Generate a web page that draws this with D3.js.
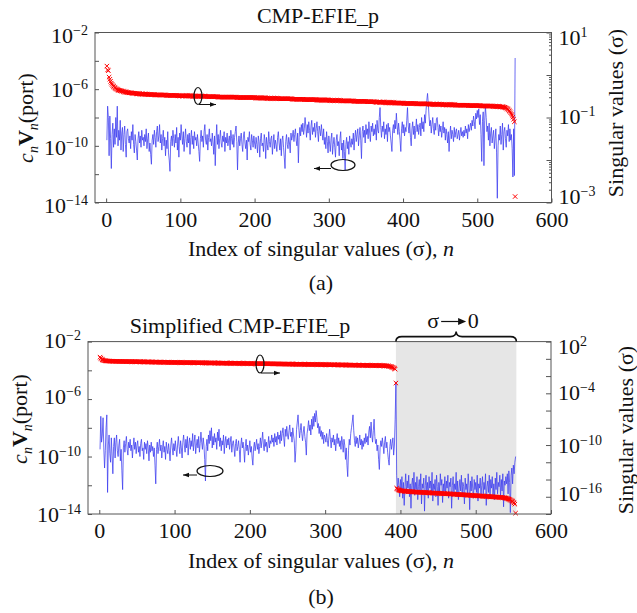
<!DOCTYPE html>
<html><head><meta charset="utf-8">
<script src="https://cdn.jsdelivr.net/npm/d3@7"></script>
<style>html,body{margin:0;padding:0;background:#fff;}svg{display:block;font-family:"Liberation Serif","Times New Roman",serif;}</style>
</head><body><svg id="c" width="637" height="613"></svg>
<script>
// ---- DATA (log10 of the plotted values, index n = position + 1) ----
// (a) CMP-EFIE_p : |c_n V_n(port)| (left axis)
const topBlueLog = [
-9.6,-7.2,-8.0,-10.7,-7.9,-9.5,-11.6,-9.2,-8.4,-10.1,
-8.8,-9.9,-8.0,-9.4,-7.2,-10.0,-8.9,-9.6,-8.2,-10.3,
-9.1,-8.7,-10.4,-9.2,-8.6,-9.9,-10.8,-9.0,-8.8,-9.5,
-9.8,-9.3,-10.2,-9.0,-9.6,-8.5,-9.9,-10.5,-9.2,-9.7,
-10.3,-11.0,-9.5,-9.0,-9.8,-9.3,-10.1,-8.9,-9.6,-9.4,
-10.0,-9.2,-9.7,-8.8,-10.2,-9.5,-9.1,-10.4,-9.8,-10.6,
-11.3,-9.6,-9.2,-9.9,-8.9,-9.4,-10.1,-9.0,-8.6,-9.7,
-9.3,-8.5,-9.8,-9.2,-10.3,-9.5,-8.9,-10.0,-9.4,-10.7,
-9.6,-10.2,-9.0,-10.5,-11.0,-11.8,-9.7,-9.3,-10.0,-8.9,
-9.5,-10.1,-9.2,-9.8,-8.7,-10.3,-9.4,-10.8,-9.1,-9.6,
-8.5,-9.3,-9.9,-9.0,-10.4,-9.5,-8.8,-9.7,-10.1,-9.2,
-9.8,-9.1,-10.6,-9.4,-8.9,-9.9,-9.3,-10.2,-9.0,-9.6,
-9.4,-10.0,-9.2,-9.8,-10.4,-11.1,-9.5,-8.9,-9.7,-9.3,
-10.1,-9.0,-8.5,-9.6,-9.9,-9.2,-10.3,-9.4,-8.8,-9.7,
-9.5,-10.0,-9.1,-9.8,-10.6,-9.3,-11.4,-9.6,-8.5,-9.9,
-9.2,-10.2,-9.5,-8.9,-9.8,-10.1,-9.3,-9.7,-9.0,-10.4,
-9.4,-9.8,-9.1,-10.0,-9.6,-9.3,-10.3,-8.9,-9.5,-9.9,
-9.2,-10.1,-9.4,-9.0,-8.6,-9.7,-11.7,-9.8,-9.3,-10.0,
-9.5,-9.1,-9.9,-10.4,-9.3,-9.0,-9.8,-10.2,-9.6,-11.0,
-9.4,-9.7,-9.0,-9.9,-10.3,-9.2,-9.6,-10.1,-9.3,-9.8,
-10.2,-9.4,-9.9,-10.5,-9.3,-9.7,-10.8,-9.5,-9.1,-10.0,
-9.8,-10.4,-9.2,-9.6,-10.9,-9.4,-9.9,-10.3,-9.0,-9.7,
-10.1,-9.5,-9.3,-10.6,-9.8,-9.2,-10.2,-9.6,-9.9,-10.4,
-9.4,-9.0,-9.8,-10.3,-9.5,-10.7,-9.6,-9.3,-10.1,-10.8,
-11.6,-9.7,-9.2,-9.9,-10.2,-9.4,-9.8,-10.5,-9.1,-9.6,
-9.3,-8.9,-9.7,-9.2,-8.8,-9.6,-10.0,-9.1,-11.2,-9.4,
-8.7,-9.3,-8.5,-9.0,-8.4,-9.2,-8.8,-8.0,-8.6,-9.4,
-8.5,-9.1,-8.3,-8.9,-9.6,-8.6,-8.2,-9.2,-8.7,-9.0,
-8.4,-9.4,-8.8,-8.3,-9.0,-9.7,-8.6,-8.9,-9.3,-8.5,
-9.1,-9.6,-8.8,-9.9,-9.4,-10.2,-9.0,-9.7,-10.5,-9.3,
-9.8,-10.4,-9.5,-9.1,-10.6,-9.9,-9.4,-10.1,-10.8,-9.6,
-9.2,-10.0,-9.7,-10.7,-9.5,-9.0,-10.3,-9.8,-10.9,-9.6,
-10.4,-11.7,-9.9,-9.4,-10.2,-9.7,-10.6,-9.3,-9.8,-10.1,
-9.5,-9.9,-9.1,-10.3,-9.4,-8.9,-9.7,-9.2,-8.8,-10.0,
-9.3,-8.7,-9.6,-10.9,-9.0,-8.6,-9.4,-8.9,-9.8,-8.5,
-9.2,-8.8,-9.5,-8.3,-9.1,-9.7,-8.6,-9.0,-8.4,-9.3,
-8.8,-9.2,-8.5,-9.6,-8.2,-8.9,-9.1,-8.0,-7.3,-8.7,
-9.4,-8.6,-9.0,-8.3,-9.5,-8.8,-9.2,-8.5,-9.7,-8.4,
-9.0,-8.7,-9.3,-9.8,-10.4,-8.9,-8.5,-9.1,-8.2,-8.8,
-7.7,-8.6,-9.2,-8.4,-9.0,-9.6,-10.4,-8.8,-8.3,-9.1,
-8.5,-9.3,-8.7,-9.0,-8.2,-7.3,-8.6,-9.1,-8.4,-9.4,
-10.0,-8.8,-8.3,-9.2,-8.6,-9.5,-8.9,-8.1,-9.0,-8.5,
-9.2,-8.7,-8.4,-9.3,-8.0,-8.8,-8.3,-9.0,-7.8,-8.4,
-7.5,-6.8,-6.3,-7.0,-7.9,-8.6,-8.2,-9.1,-8.5,-8.0,
-8.8,-9.2,-8.4,-8.9,-8.1,-8.0,-8.7,-9.3,-8.5,-9.0,
-8.6,-9.4,-8.9,-8.3,-9.1,-8.7,-9.6,-8.8,-9.2,-9.8,
-9.0,-10.4,-9.3,-8.6,-9.5,-8.9,-9.2,-9.7,-8.7,-9.4,
-9.0,-8.8,-9.5,-9.2,-8.9,-9.6,-9.1,-8.7,-9.3,-9.0,
-9.4,-8.9,-9.3,-8.6,-9.1,-8.8,-9.5,-8.5,-9.0,-8.7,
-8.4,-8.9,-8.2,-8.6,-7.9,-8.3,-8.8,-7.7,-8.1,-7.5,
-8.0,-7.4,-8.5,-7.8,-9.2,-11.1,-8.3,-7.6,-11.4,-8.2,
-7.2,-8.0,-9.0,-8.6,-9.6,-8.4,-10.0,-9.1,-8.7,-9.8,
-9.3,-8.9,-10.2,-9.5,-8.8,-10.5,-13.7,-10.0,-9.2,-9.6,
-8.6,-9.9,-9.2,-8.4,-10.3,-9.0,-8.7,-9.5,-10.1,-8.9,
-9.3,-8.5,-9.7,-8.8,-9.6,-9.2,-10.2,-12.2,-8.8,-12.1,
-3.8];
// (a) singular values sigma_n (right axis)
const topRedLog = [
.21,.12,.10,-.05,-.10,-.15,-.19,-.22,-.25,-.27,
-.29,-.30,-.32,-.33,-.34,-.35,-.36,-.36,-.37,-.37,
-.38,-.38,-.39,-.39,-.40,-.40,-.40,-.41,-.41,-.41,
-.42,-.42,-.42,-.42,-.43,-.43,-.43,-.43,-.43,-.44,
-.44,-.44,-.44,-.44,-.44,-.45,-.45,-.45,-.45,-.45,
-.45,-.45,-.45,-.45,-.45,-.46,-.46,-.46,-.46,-.46,
-.46,-.46,-.46,-.46,-.46,-.47,-.47,-.47,-.47,-.47,
-.47,-.47,-.47,-.47,-.47,-.47,-.47,-.47,-.47,-.47,
-.48,-.48,-.48,-.48,-.48,-.48,-.48,-.48,-.48,-.48,
-.48,-.48,-.48,-.48,-.48,-.49,-.49,-.49,-.49,-.49,
-.49,-.49,-.49,-.49,-.49,-.49,-.49,-.49,-.49,-.49,
-.49,-.49,-.49,-.49,-.49,-.50,-.50,-.50,-.50,-.50,
-.50,-.50,-.50,-.50,-.50,-.50,-.50,-.50,-.50,-.50,
-.50,-.50,-.50,-.50,-.50,-.51,-.51,-.51,-.51,-.51,
-.51,-.51,-.51,-.51,-.51,-.51,-.51,-.51,-.51,-.51,
-.52,-.52,-.52,-.52,-.52,-.52,-.52,-.52,-.52,-.52,
-.52,-.52,-.52,-.52,-.52,-.52,-.52,-.52,-.52,-.52,
-.52,-.52,-.52,-.52,-.52,-.53,-.53,-.53,-.53,-.53,
-.53,-.53,-.53,-.53,-.53,-.53,-.53,-.53,-.53,-.53,
-.53,-.53,-.53,-.53,-.53,-.53,-.53,-.53,-.53,-.53,
-.54,-.54,-.54,-.54,-.54,-.54,-.54,-.54,-.54,-.54,
-.54,-.54,-.54,-.54,-.54,-.55,-.55,-.55,-.55,-.55,
-.55,-.55,-.55,-.55,-.55,-.55,-.55,-.55,-.55,-.55,
-.55,-.55,-.56,-.56,-.56,-.56,-.56,-.56,-.56,-.56,
-.56,-.56,-.56,-.56,-.56,-.56,-.56,-.56,-.56,-.56,
-.57,-.57,-.57,-.57,-.57,-.57,-.57,-.57,-.57,-.57,
-.57,-.57,-.57,-.57,-.57,-.57,-.58,-.58,-.58,-.58,
-.58,-.58,-.58,-.58,-.58,-.58,-.58,-.58,-.58,-.58,
-.58,-.58,-.58,-.59,-.59,-.59,-.59,-.59,-.59,-.59,
-.59,-.59,-.59,-.59,-.59,-.59,-.59,-.59,-.59,-.59,
-.60,-.60,-.60,-.60,-.60,-.60,-.60,-.60,-.60,-.60,
-.60,-.60,-.60,-.60,-.60,-.60,-.61,-.61,-.61,-.61,
-.61,-.61,-.61,-.61,-.61,-.61,-.61,-.61,-.61,-.61,
-.61,-.61,-.61,-.62,-.62,-.62,-.62,-.62,-.62,-.62,
-.62,-.62,-.62,-.62,-.62,-.62,-.62,-.62,-.62,-.62,
-.63,-.63,-.63,-.63,-.63,-.63,-.63,-.63,-.63,-.63,
-.63,-.63,-.64,-.64,-.64,-.64,-.64,-.64,-.64,-.64,
-.64,-.64,-.64,-.64,-.64,-.65,-.65,-.65,-.65,-.65,
-.65,-.65,-.65,-.65,-.65,-.65,-.65,-.65,-.66,-.66,
-.66,-.66,-.66,-.66,-.66,-.66,-.66,-.66,-.66,-.66,
-.67,-.67,-.67,-.67,-.67,-.67,-.67,-.67,-.67,-.67,
-.67,-.67,-.67,-.67,-.67,-.67,-.67,-.68,-.68,-.68,
-.68,-.68,-.68,-.68,-.68,-.68,-.68,-.68,-.68,-.68,
-.68,-.68,-.68,-.68,-.68,-.69,-.69,-.69,-.69,-.69,
-.69,-.69,-.69,-.69,-.69,-.69,-.69,-.69,-.69,-.69,
-.69,-.69,-.70,-.70,-.70,-.70,-.70,-.70,-.70,-.70,
-.70,-.70,-.70,-.70,-.70,-.70,-.70,-.70,-.70,-.70,
-.71,-.71,-.71,-.71,-.71,-.71,-.71,-.71,-.71,-.71,
-.71,-.71,-.71,-.71,-.71,-.71,-.71,-.72,-.72,-.72,
-.72,-.72,-.72,-.72,-.72,-.72,-.72,-.72,-.72,-.72,
-.72,-.72,-.72,-.72,-.73,-.73,-.73,-.73,-.73,-.73,
-.73,-.73,-.73,-.73,-.73,-.73,-.73,-.73,-.73,-.73,
-.74,-.74,-.74,-.74,-.74,-.74,-.74,-.74,-.74,-.74,
-.75,-.75,-.75,-.75,-.75,-.76,-.76,-.77,-.78,-.79,
-.80,-.82,-.84,-.86,-.89,-.92,-.95,-.99,-1.04,-1.10,
-2.86];
// (b) Simplified CMP-EFIE_p : |c_n V_n(port)| (left axis)
const botBlueLog = [
-9.5,-7.2,-9.0,-8.5,-7.3,-9.4,-10.8,-9.6,-8.0,-7.1,
-12.5,-9.2,-8.5,-9.8,-10.4,-8.7,-9.9,-11.2,-9.3,-8.7,
-10.1,-9.0,-8.5,-9.6,-10.0,-9.2,-8.8,-10.3,-9.5,-11.0,
-12.3,-9.4,-8.9,-9.7,-9.1,-8.6,-9.5,-9.9,-9.0,-9.4,
-8.8,-9.6,-9.2,-10.1,-9.3,-8.7,-9.5,-9.0,-9.8,-9.2,
-8.9,-9.7,-9.3,-10.0,-9.1,-8.8,-9.6,-9.4,-10.2,-9.0,
-9.5,-9.1,-9.8,-8.9,-9.4,-10.3,-9.2,-9.7,-9.0,-9.6,
-9.3,-10.0,-9.4,-10.6,-11.9,-9.5,-9.0,-9.8,-9.3,-8.8,
-9.6,-9.2,-10.1,-9.4,-8.9,-9.7,-9.3,-10.2,-9.0,-9.5,
-9.8,-9.1,-9.6,-10.3,-9.2,-8.7,-9.4,-9.9,-9.1,-9.6,
-8.9,-9.5,-10.0,-9.2,-8.6,-9.3,-9.8,-8.9,-9.4,-10.1,
-9.0,-8.5,-9.2,-9.7,-8.8,-9.4,-8.6,-9.9,-9.1,-8.7,
-9.5,-8.9,-9.3,-8.4,-9.6,-9.0,-8.5,-9.8,-9.2,-8.8,
-9.4,-8.6,-9.7,-9.1,-8.3,-9.0,-9.5,-8.7,-9.2,-10.2,
-11.7,-9.3,-8.8,-9.6,-8.5,-9.1,-8.2,-8.9,-8.0,-9.4,
-8.6,-9.2,-8.4,-9.0,-8.7,-9.5,-8.3,-8.9,-8.1,-9.3,
-8.7,-9.6,-8.9,-9.2,-8.5,-9.8,-9.0,-8.6,-9.4,-8.8,
-9.2,-8.7,-9.5,-9.0,-8.6,-9.7,-9.1,-8.9,-9.4,-10.0,
-9.1,-8.8,-9.6,-9.3,-8.9,-9.5,-10.4,-9.2,-8.7,-9.4,
-9.0,-9.5,-10.4,-9.3,-8.8,-9.6,-9.2,-9.9,-9.4,-8.9,
-9.7,-9.3,-10.1,-10.6,-9.4,-9.0,-9.6,-9.2,-8.8,-9.5,
-9.1,-9.8,-9.3,-8.7,-9.4,-8.9,-8.3,-9.2,-9.6,-8.8,
-9.3,-9.0,-9.7,-9.2,-8.6,-9.4,-8.9,-9.1,-8.5,-9.0,
-8.7,-9.3,-8.4,-9.0,-8.6,-9.2,-8.3,-8.8,-8.5,-9.1,
-8.2,-8.9,-8.4,-8.0,-8.7,-9.3,-8.1,-8.6,-7.9,-8.5,
-8.8,-8.2,-7.8,-8.6,-8.3,-9.0,-8.0,-8.5,-8.9,-10.4,
-9.6,-8.1,-7.6,-7.1,-8.0,-8.7,-8.2,-7.7,-8.4,-8.9,
-8.3,-7.9,-8.6,-9.0,-9.9,-8.4,-8.0,-7.5,-8.2,-7.8,
-8.5,-7.4,-8.1,-7.2,-7.9,-7.0,-7.6,-6.8,-7.3,-8.0,
-7.7,-8.4,-7.9,-8.6,-8.2,-8.8,-8.3,-9.1,-8.5,-8.7,
-9.0,-8.4,-8.9,-9.3,-8.6,-8.1,-8.8,-9.4,-8.7,-9.0,
-8.5,-9.2,-8.8,-9.6,-8.9,-8.4,-9.1,-8.7,-9.3,-8.9,
-9.5,-8.6,-9.0,-9.7,-8.8,-9.2,-10.2,-9.4,-10.6,-11.4,
-9.6,-8.8,-9.2,-8.4,-8.0,-7.6,-7.1,-8.2,-8.9,-9.3,
-8.6,-9.1,-8.7,-9.4,-9.0,-8.5,-9.2,-8.8,-9.5,-8.9,
-9.3,-8.7,-9.1,-8.4,-9.0,-8.6,-9.2,-8.3,-7.9,-8.7,
-7.6,-8.5,-9.0,-8.2,-7.4,-8.6,-9.1,-8.8,-9.6,-9.2,
-10.2,-10.9,-9.4,-8.9,-9.3,-8.7,-9.2,-9.8,-9.0,-8.6,
-9.4,-9.0,-9.7,-10.2,-10.6,-9.3,-8.8,-9.5,-9.1,-8.7,
-9.9,-9.2,-7.4,-4.8,-11.3,-12.4,-11.5,-12.0,-12.8,-11.6,
-12.3,-11.4,-12.9,-11.8,-13.4,-12.1,-11.2,-12.6,-11.7,-12.2,
-11.3,-12.8,-11.9,-13.6,-12.0,-11.5,-12.4,-11.1,-12.7,-11.8,
-12.3,-11.4,-13.0,-12.1,-11.6,-12.5,-11.2,-13.3,-11.9,-12.2,
-11.5,-13.8,-12.0,-11.3,-12.6,-11.8,-12.9,-11.4,-12.2,-11.7,
-12.4,-11.1,-13.1,-11.9,-12.3,-11.6,-12.8,-11.3,-12.1,-13.4,
-11.8,-12.5,-11.2,-12.0,-11.6,-13.2,-11.9,-12.4,-11.4,-12.7,
-11.7,-12.2,-11.3,-12.9,-11.8,-12.1,-11.5,-13.6,-12.0,-11.4,
-12.6,-11.9,-12.3,-11.1,-12.8,-11.7,-13.0,-12.2,-11.6,-12.4,
-11.3,-12.7,-11.8,-12.1,-13.3,-11.5,-12.3,-11.9,-12.6,-11.2,
-12.0,-13.7,-11.7,-12.4,-11.4,-12.2,-12.9,-11.6,-12.3,-11.8,
-12.5,-11.3,-13.1,-11.9,-12.2,-11.5,-12.8,-12.0,-11.4,-12.6,
-11.8,-12.3,-11.2,-13.4,-12.1,-11.7,-12.5,-11.3,-12.9,-11.6,
-12.2,-11.4,-12.7,-11.9,-13.0,-11.5,-12.3,-11.1,-12.6,-11.8,
-12.1,-11.3,-12.8,-11.6,-12.4,-11.2,-13.5,-11.7,-12.0,-11.4,
-11.9,-11.2,-12.6,-11.0,-11.8,-13.9,-11.3,-10.8,-11.9,-10.6,
-11.2,-10.4,-10.0];
// (b) singular values sigma_n (right axis)
const botRedLog = [
.20,.08,-.02,-.10,-.15,-.19,-.21,-.23,-.24,-.25,
-.25,-.26,-.26,-.26,-.27,-.27,-.27,-.28,-.28,-.28,
-.28,-.29,-.29,-.29,-.29,-.30,-.30,-.30,-.30,-.30,
-.31,-.31,-.31,-.31,-.31,-.32,-.32,-.32,-.32,-.32,
-.32,-.32,-.33,-.33,-.33,-.33,-.33,-.33,-.34,-.34,
-.34,-.34,-.34,-.34,-.35,-.35,-.35,-.35,-.35,-.35,
-.36,-.36,-.36,-.36,-.36,-.36,-.37,-.37,-.37,-.37,
-.37,-.37,-.38,-.38,-.38,-.38,-.38,-.38,-.39,-.39,
-.39,-.39,-.39,-.39,-.40,-.40,-.40,-.40,-.40,-.40,
-.41,-.41,-.41,-.41,-.41,-.41,-.42,-.42,-.42,-.42,
-.42,-.42,-.42,-.42,-.43,-.43,-.43,-.43,-.43,-.43,
-.43,-.43,-.44,-.44,-.44,-.44,-.44,-.44,-.44,-.44,
-.45,-.45,-.45,-.45,-.45,-.45,-.45,-.45,-.46,-.46,
-.46,-.46,-.46,-.46,-.46,-.46,-.47,-.47,-.47,-.47,
-.47,-.47,-.47,-.47,-.48,-.48,-.48,-.48,-.48,-.48,
-.48,-.48,-.49,-.49,-.49,-.49,-.49,-.49,-.49,-.49,
-.50,-.50,-.50,-.50,-.50,-.50,-.50,-.50,-.51,-.51,
-.51,-.51,-.51,-.51,-.51,-.51,-.52,-.52,-.52,-.52,
-.52,-.52,-.52,-.52,-.53,-.53,-.53,-.53,-.53,-.53,
-.53,-.53,-.54,-.54,-.54,-.54,-.54,-.54,-.55,-.55,
-.55,-.55,-.55,-.55,-.55,-.55,-.56,-.56,-.56,-.56,
-.56,-.56,-.56,-.56,-.57,-.57,-.57,-.57,-.57,-.57,
-.57,-.57,-.58,-.58,-.58,-.58,-.58,-.58,-.58,-.58,
-.59,-.59,-.59,-.59,-.59,-.59,-.59,-.59,-.60,-.60,
-.60,-.60,-.60,-.60,-.60,-.60,-.61,-.61,-.61,-.61,
-.61,-.61,-.61,-.61,-.62,-.62,-.62,-.62,-.62,-.62,
-.62,-.62,-.63,-.63,-.63,-.63,-.63,-.63,-.63,-.63,
-.64,-.64,-.64,-.64,-.64,-.64,-.64,-.64,-.65,-.65,
-.65,-.65,-.65,-.65,-.65,-.65,-.66,-.66,-.66,-.66,
-.66,-.66,-.66,-.66,-.67,-.67,-.67,-.67,-.68,-.68,
-.68,-.68,-.68,-.68,-.68,-.69,-.69,-.69,-.69,-.69,
-.69,-.69,-.70,-.70,-.70,-.70,-.70,-.70,-.70,-.71,
-.71,-.71,-.71,-.71,-.71,-.71,-.72,-.72,-.72,-.72,
-.72,-.72,-.72,-.73,-.73,-.73,-.73,-.73,-.73,-.73,
-.74,-.74,-.74,-.74,-.74,-.74,-.74,-.75,-.75,-.75,
-.75,-.75,-.75,-.75,-.76,-.76,-.76,-.76,-.76,-.76,
-.77,-.77,-.77,-.77,-.77,-.77,-.77,-.78,-.78,-.78,
-.78,-.78,-.78,-.79,-.79,-.79,-.79,-.80,-.80,-.80,
-.81,-.82,-.83,-.84,-.86,-.88,-.90,-.93,-.96,-1.00,
-1.05,-1.12,-1.20,-2.81,-15.00,-15.10,-15.17,-15.22,-15.26,-15.29,
-15.31,-15.32,-15.33,-15.34,-15.35,-15.36,-15.37,-15.38,-15.38,-15.39,
-15.40,-15.40,-15.41,-15.42,-15.42,-15.43,-15.44,-15.44,-15.45,-15.45,
-15.46,-15.46,-15.47,-15.47,-15.48,-15.48,-15.48,-15.49,-15.49,-15.50,
-15.50,-15.51,-15.51,-15.52,-15.52,-15.53,-15.53,-15.54,-15.54,-15.55,
-15.55,-15.56,-15.56,-15.57,-15.57,-15.58,-15.58,-15.59,-15.59,-15.60,
-15.60,-15.61,-15.61,-15.62,-15.62,-15.63,-15.63,-15.64,-15.64,-15.65,
-15.65,-15.66,-15.66,-15.67,-15.67,-15.68,-15.68,-15.69,-15.69,-15.70,
-15.70,-15.71,-15.71,-15.72,-15.72,-15.73,-15.73,-15.74,-15.75,-15.75,
-15.76,-15.76,-15.77,-15.78,-15.78,-15.79,-15.79,-15.80,-15.81,-15.81,
-15.82,-15.82,-15.83,-15.84,-15.84,-15.85,-15.85,-15.86,-15.87,-15.87,
-15.88,-15.88,-15.89,-15.90,-15.90,-15.91,-15.91,-15.92,-15.93,-15.93,
-15.94,-15.94,-15.95,-15.96,-15.96,-15.97,-15.97,-15.98,-15.99,-15.99,
-16.00,-16.00,-16.01,-16.02,-16.02,-16.03,-16.03,-16.04,-16.05,-16.05,
-16.06,-16.07,-16.07,-16.08,-16.09,-16.10,-16.11,-16.12,-16.14,-16.16,
-16.18,-16.21,-16.24,-16.28,-16.32,-16.37,-16.42,-16.48,-16.55,-16.63,
-16.72,-16.86,-17.90];

// axis ticks / labels
const xTicks = [0, 100, 200, 300, 400, 500, 600];
const leftTicks = [-2, -4, -6, -8, -10, -12, -14];          // exponents
const leftLabels = [-2, -6, -10, -14];
const topRightTicks = [1, 0, -1, -2, -3];
const topRightLabels = [1, -1, -3];
const botRightTicks = [2, 0, -2, -4, -6, -8, -10, -12, -14, -16, -18];
const botRightLabels = [2, -4, -10, -16];
const shadeRange = [394, 554];   // sigma -> 0 region (index n)

// ---- DRAWING ----
const svg = d3.select('#c');
svg.append('rect').attr('width', 637).attr('height', 613).attr('fill', '#fff');
const FONT = 22, SUP = 14;
const minus = e => String(e).replace('-', '\u2212');

function panel(o) {
  const g = svg.append('g');
  const x = d3.scaleLinear().domain([-15, 600]).range([o.L, o.R]);
  const yL = d3.scaleLog().domain(o.lDom).range([o.B, o.T]);
  const yR = d3.scaleLog().domain(o.rDom).range([o.B, o.T]);
  const cid = 'clip' + o.id;
  svg.append('clipPath').attr('id', cid).append('rect')
    .attr('x', o.L).attr('y', o.T).attr('width', o.R - o.L).attr('height', o.B - o.T);

  if (o.shade) {
    g.append('rect').attr('x', x(o.shade[0])).attr('y', o.T)
      .attr('width', x(o.shade[1]) - x(o.shade[0])).attr('height', o.B - o.T)
      .attr('fill', '#e6e6e6');
  }
  // blue line
  const line = d3.line().x((d, i) => x(i + 1)).y(d => yL(Math.pow(10, d)));
  g.append('path').datum(o.blue).attr('d', line).attr('clip-path', `url(#${cid})`)
    .attr('fill', 'none').attr('stroke', '#3b3bef').attr('stroke-width', 0.75)
    .attr('stroke-linejoin', 'round');
  // red crosses
  const s = 2.2;
  g.append('g').selectAll('path').data(o.red).join('path')
    .attr('d', (d, i) => {
      const cx = x(i + 1), cy = yR(Math.pow(10, d));
      return `M${cx - s},${cy - s}L${cx + s},${cy + s}M${cx - s},${cy + s}L${cx + s},${cy - s}`;
    })
    .attr('stroke', '#ff0000').attr('stroke-width', 1).attr('fill', 'none');

  // axes
  const axColor = '#555';
  const xa = g.append('g').attr('transform', `translate(0,${o.B})`)
    .call(d3.axisBottom(x).tickValues(xTicks).tickSizeInner(-4).tickSizeOuter(0).tickFormat(d3.format('d')));
  xa.select('.domain').remove();
  xa.selectAll('.tick line').attr('stroke', axColor);
  xa.selectAll('.tick text').attr('y', o.xLab).attr('dy', 0)
    .attr('font-size', FONT).attr('font-family', 'Liberation Serif').attr('fill', '#111');

  const la = g.append('g').attr('transform', `translate(${o.L},0)`)
    .call(d3.axisLeft(yL).tickValues(leftTicks.map(e => Math.pow(10, e))).tickSizeInner(-4).tickSizeOuter(0).tickFormat(''));
  la.select('.domain').remove();
  la.selectAll('.tick line').attr('stroke', axColor);
  leftLabels.forEach(e => {
    const t = g.append('text').attr('x', o.L - 7).attr('y', yL(Math.pow(10, e)) + (o.lOff[e] || 8))
      .attr('text-anchor', 'end').attr('font-size', FONT).attr('fill', '#111');
    t.append('tspan').text('10');
    t.append('tspan').attr('dy', -8).attr('font-size', SUP).text(minus(e));
  });

  const ra = g.append('g').attr('transform', `translate(${o.R},0)`)
    .call(d3.axisRight(yR).tickValues(o.rTicks.map(e => Math.pow(10, e))).tickSizeInner(-5).tickSizeOuter(0).tickFormat(''));
  ra.select('.domain').remove();
  ra.selectAll('.tick line').attr('stroke', axColor);
  if (o.rMinor) {
    const majors = new Set(o.rTicks.map(e => Math.pow(10, e)));
    const minor = yR.ticks().filter(v => ![...majors].some(m => Math.abs(v / m - 1) < 1e-9));
    const rm = g.append('g').attr('transform', `translate(${o.R},0)`)
      .call(d3.axisRight(yR).tickValues(minor).tickSizeInner(-2.5).tickSizeOuter(0).tickFormat(''));
    rm.select('.domain').remove();
    rm.selectAll('.tick line').attr('stroke', axColor);
  }
  o.rLabels.forEach(e => {
    const t = g.append('text').attr('x', o.R + 7).attr('y', yR(Math.pow(10, e)) + (o.rOff[e] || 6))
      .attr('text-anchor', 'start').attr('font-size', FONT).attr('fill', '#111');
    t.append('tspan').text('10');
    t.append('tspan').attr('dy', -8).attr('font-size', SUP).text(minus(e));
  });

  // frame
  g.append('rect').attr('x', o.L).attr('y', o.T).attr('width', o.R - o.L).attr('height', o.B - o.T)
    .attr('fill', 'none').attr('stroke', '#555').attr('stroke-width', 1);

  // titles
  g.append('text').attr('x', o.titleX).attr('y', o.titleY).attr('text-anchor', 'middle')
    .attr('font-size', FONT).attr('fill', '#111').text(o.title);
  const xl = g.append('text').attr('x', 321).attr('y', o.B + o.xTitle).attr('text-anchor', 'middle')
    .attr('font-size', FONT).attr('fill', '#111');
  xl.append('tspan').text('Index of singular values (\u03c3), ');
  xl.append('tspan').attr('font-style', 'italic').text('n');
  g.append('text').attr('x', 321).attr('y', o.B + o.capY).attr('text-anchor', 'middle')
    .attr('font-size', FONT).attr('fill', '#111').text(o.cap);

  const ly = g.append('text').attr('transform', `translate(${o.lTitleX},${o.lTitleY}) rotate(-90)`)
    .attr('text-anchor', 'middle').attr('font-size', FONT).attr('fill', '#111');
  ly.append('tspan').attr('font-style', 'italic').text('c');
  ly.append('tspan').attr('font-style', 'italic').attr('font-size', SUP).attr('dy', 5).text('n');
  ly.append('tspan').attr('font-weight', 'bold').attr('dy', -5).text('V');
  ly.append('tspan').attr('font-style', 'italic').attr('font-size', SUP).attr('dy', 5).text('n');
  ly.append('tspan').attr('dy', -5).text('(port)');

  g.append('text').attr('transform', `translate(${o.rTitleX},${o.rTitleY}) rotate(-90)`)
    .attr('text-anchor', 'middle').attr('font-size', FONT).attr('fill', '#111')
    .text('Singular values (\u03c3)');
  return { g, x, yL, yR };
}

function loopArrow(g, cx, cy, rx, ry, x1, x2, ay) {
  g.append('ellipse').attr('cx', cx).attr('cy', cy).attr('rx', rx).attr('ry', ry)
    .attr('fill', 'none').attr('stroke', '#111').attr('stroke-width', 1.2);
  g.append('line').attr('x1', x1).attr('y1', ay).attr('x2', x2).attr('y2', ay)
    .attr('stroke', '#111').attr('stroke-width', 1);
  const dir = x2 > x1 ? 1 : -1;
  g.append('path').attr('d', `M${x2},${ay}L${x2 - dir * 6},${ay - 2.2}L${x2 - dir * 6},${ay + 2.2}Z`).attr('fill', '#111');
}

const A = panel({
  id: 'a', L: 95, R: 551.5, T: 32.5, B: 202.5,
  lDom: [1e-14, 1e-2], rDom: [1e-3, 1e1],
  rTicks: topRightTicks, rLabels: topRightLabels, rMinor: true,
  lOff: { '-2': 10, '-6': 8, '-10': 9, '-14': 10 }, rOff: { '1': 12, '-1': 6, '-3': 1 },
  blue: topBlueLog, red: topRedLog,
  xLab: 24, xTitle: 53, capY: 87, cap: '(a)',
  title: 'CMP-EFIE_p', titleX: 318, titleY: 23,
  lTitleX: 33, lTitleY: 118, rTitleX: 623, rTitleY: 113
});
loopArrow(A.g, 198, 96, 4, 8.5, 199, 216, 104.5);
loopArrow(A.g, 343, 165, 12, 5.5, 331, 314, 168.5);

const B = panel({
  id: 'b', L: 88, R: 551, T: 341.6, B: 514,
  lDom: [1e-14, 1e-2], rDom: [1e-18, 1e2],
  rTicks: botRightTicks, rLabels: botRightLabels, rMinor: false,
  lOff: { '-2': 6, '-6': 5, '-10': 7, '-14': 8 }, rOff: { '2': 12, '-4': 7, '-10': 8, '-16': 4 },
  blue: botBlueLog, red: botRedLog, shade: shadeRange,
  xLab: 24, xTitle: 54, capY: 90, cap: '(b)',
  title: 'Simplified CMP-EFIE_p', titleX: 240, titleY: 333,
  lTitleX: 27, lTitleY: 419, rTitleX: 633, rTitleY: 430
});
loopArrow(B.g, 260, 364, 4, 9, 261, 280, 373);
loopArrow(B.g, 210, 471, 13, 5.5, 197, 183, 475);

// brace + sigma -> 0 annotation
const bx1 = B.x(shadeRange[0]), bx2 = B.x(shadeRange[1]), bm = (bx1 + bx2) / 2, by = 341.6;
B.g.append('path')
  .attr('d', `M${bx1},${by}Q${bx1},${by - 5} ${bx1 + 6},${by - 5}L${bm - 6},${by - 5}Q${bm},${by - 5} ${bm},${by - 10}Q${bm},${by - 5} ${bm + 6},${by - 5}L${bx2 - 6},${by - 5}Q${bx2},${by - 5} ${bx2},${by}`)
  .attr('fill', 'none').attr('stroke', '#111').attr('stroke-width', 1.6);
B.g.append('text').attr('x', bm - 23).attr('y', 328).attr('text-anchor', 'middle')
  .attr('font-size', FONT).attr('fill', '#111').text('\u03c3');
B.g.append('line').attr('x1', bm - 15).attr('y1', 321.5).attr('x2', bm + 4).attr('y2', 321.5)
  .attr('stroke', '#111').attr('stroke-width', 1.2);
B.g.append('path').attr('d', `M${bm + 10},321.5L${bm + 2},318L${bm + 2},325Z`).attr('fill', '#111');
B.g.append('text').attr('x', bm + 17).attr('y', 328).attr('text-anchor', 'middle')
  .attr('font-size', FONT).attr('fill', '#111').text('0');
</script></body></html>
